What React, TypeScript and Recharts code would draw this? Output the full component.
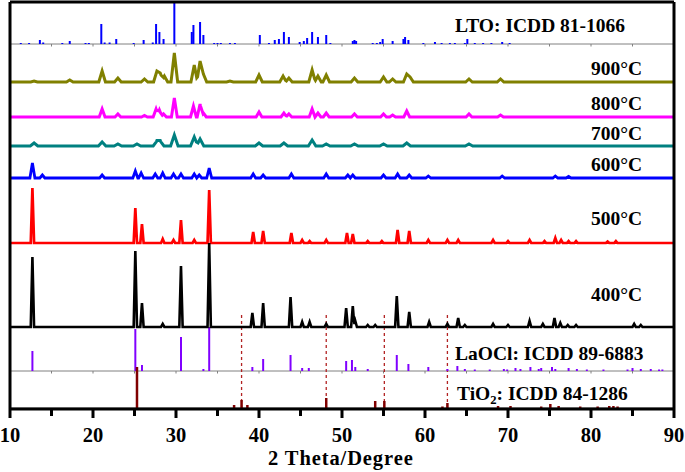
import React from "react";
import { ComposedChart, Line, XAxis, YAxis, ReferenceLine } from "recharts";

// ---------- data (2θ position, intensity in arbitrary units) ----------
const xTicks = [10, 15, 20, 25, 30, 35, 40, 45, 50, 55, 60, 65, 70, 75, 80, 85, 90];

const ltoSticks = [[11.3,1],[12.3,1],[13.6,4],[14.0,1.5],[16.3,1],[17.2,3],[19.1,1],[19.5,1],[21.0,20],[21.4,1.5],[22.0,1.5],[22.8,5],[24.9,1],[26.1,4],[27.2,1.5],[27.6,20],[28.0,12],[28.5,5],[29.8,41],[31.9,12],[32.1,19],[32.9,22],[33.3,9],[34.6,1],[35.0,1],[35.4,1],[36.5,1],[37.1,1],[40.1,9],[41.2,1],[41.9,4],[42.4,5],[43.0,12],[43.6,7],[44.9,2],[45.4,3],[45.8,6],[46.4,12],[47.1,7],[48.1,9],[48.6,1],[51.3,3],[51.5,4],[51.7,3],[53.7,1],[54.2,1],[54.6,2],[54.9,5],[56.1,3],[57.4,5],[57.6,7],[58.0,4],[59.8,1],[61.2,2],[62.0,1],[63.0,1],[63.6,1],[64.8,1],[65.1,5],[66.0,1],[67.0,1],[68.0,1],[69.3,2],[70.2,1]];

const peaks900 = [[12.9,1],[17.2,2],[21.1,11],[23.0,4],[26.2,3],[27.7,11],[28.1,9],[28.6,6],[29.8,29],[32.2,17],[32.9,21],[33.3,8],[36.5,1],[40.0,7],[42.9,6],[43.6,4],[46.4,12],[47.1,6],[48.1,7],[51.5,4],[55.0,5],[56.1,3],[57.8,8],[58.2,5],[65.3,3],[69.1,3]];
const peaks800 = [[21.1,8],[23.0,3],[26.2,1.5],[27.6,8],[28.0,7],[28.5,3],[29.8,19],[32.1,11],[32.9,13],[33.3,4],[40.0,5],[43.0,4],[43.6,3],[46.4,8],[47.1,4],[48.1,4],[51.5,3],[55.0,3],[56.1,2],[57.8,6],[65.3,3],[69.1,2]];
const peaks700 = [[12.9,3],[21.1,4],[23.0,2],[25.3,2],[27.7,5],[28.1,5],[29.8,11],[32.2,9],[32.9,7],[40.0,3],[43.0,3],[46.4,6],[48.1,2],[51.5,2],[55.0,2],[57.8,3],[65.3,2]];
const peaks600 = [[12.7,15],[13.9,3],[21.1,3],[25.1,7],[25.8,5],[27.5,4],[28.4,5],[29.7,4],[30.6,4],[32.2,4],[32.8,3],[34.0,10],[39.3,4],[40.5,3],[43.9,4],[48.1,4],[50.7,3],[51.3,3],[55.0,3],[56.7,4],[58.1,3],[60.4,2],[69.3,2],[75.7,2],[77.3,1.5]];
const peaks500 = [[12.7,55],[25.1,35],[25.9,19],[28.4,4],[29.7,3],[30.6,23],[32.2,3],[34.0,53],[39.3,11],[40.5,12],[43.9,10],[45.2,3],[46.1,2],[48.1,3],[50.6,10],[51.3,9],[53.1,2],[54.8,2],[56.7,13],[58.1,12],[60.4,3],[62.7,3],[64.0,3],[68.2,3],[70.0,2],[72.6,3],[74.4,2],[75.7,5],[76.4,3],[77.3,2],[78.2,2],[82.0,1.5],[83.0,2]];
const peaks400 = [[12.7,70],[25.1,76],[25.9,24],[28.4,3],[30.6,61],[34.0,84],[39.2,14],[40.5,24],[43.8,30],[45.2,5],[46.1,5],[48.1,3],[50.5,19],[51.3,21],[51.6,6],[53.1,2],[54.0,2],[56.6,31],[58.1,15],[60.5,5],[62.7,3],[64.0,9],[64.8,2],[68.2,3],[70.0,2],[72.6,6],[74.2,3],[75.6,9],[76.3,4],[77.2,2],[78.2,2],[85.2,3],[86.0,2]];

const laoclSticks = [[12.7,20],[25.1,42],[25.9,6],[30.6,34],[33.3,2],[34.0,44],[39.2,4],[40.5,12],[43.8,16],[45.2,3],[46.0,3],[50.5,10],[51.2,11],[51.6,4],[53.1,2],[56.6,16],[58.0,7],[60.4,4],[62.7,2],[63.9,5],[64.8,2],[66.0,1.5],[67.8,1.5],[69.5,2],[69.9,1.5],[70.9,3],[71.5,2],[72.7,4],[73.7,2],[74.0,3],[75.3,4],[75.7,2],[77.3,3],[78.3,2],[79.5,1.5],[81.5,1.5],[84.4,1.5],[85.0,3],[86.0,2],[87.2,2],[88.2,1.5],[88.6,1.5]];
const tio2Sticks = [[25.3,41],[37.0,3],[37.9,8],[38.6,3],[48.1,10],[54.0,7],[55.1,7],[62.1,1.5],[62.7,5],[68.8,2],[70.3,2],[74.0,1.5],[75.1,4],[76.1,2],[78.7,1.5],[80.8,1.5],[82.2,2],[82.7,2],[83.2,1.5]];
const tio2Marks = [37.9, 48.1, 55.1, 62.7];

// stacking offsets
const offsets = { tio2: 1, laocl: 38, t400: 82, t500: 166, t600: 231, t700: 263, t800: 292, t900: 327, lto: 365 };
const markTop = 96;

const sampleLabels = ["900°C", "800°C", "700°C", "600°C", "500°C", "400°C"];

// ---------- helpers ----------
function profile(peaks: number[][], base: number, w: number) {
  const xs = new Set<number>([10, 90]);
  peaks.forEach(([p]) => { xs.add(+(p - w).toFixed(3)); xs.add(p); xs.add(+(p + w).toFixed(3)); });
  const sorted = Array.from(xs).sort((a, b) => a - b);
  return sorted.map((x) => ({
    x,
    y: base + peaks.reduce((s, [p, h]) => s + Math.max(0, h * (1 - Math.abs(x - p) / w)), 0),
  }));
}

const FONT = '"Liberation Serif", "Times New Roman", serif';
const AX = { xAxisId: "b", yAxisId: "l" } as const;

const XTick = (props: any) => {
  const { x, y, payload } = props;
  const v = payload.value;
  const major = v % 10 === 0;
  return (
    <g>
      <line x1={x} x2={x} y1={y} y2={y + (major ? 9 : 7)} stroke="#000" strokeWidth={3} />
      {major && (
        <text x={x} y={y + 26} textAnchor="middle" dominantBaseline="central"
          style={{ fontFamily: FONT, fontWeight: 700, fontSize: 20.5 }} fill="#000">{v}</text>
      )}
    </g>
  );
};

const series = [
  { key: "900", data: profile(peaks900, offsets.t900, 0.4), color: "#808000", sw: 3 },
  { key: "800", data: profile(peaks800, offsets.t800, 0.35), color: "#FF00FF", sw: 3 },
  { key: "700", data: profile(peaks700, offsets.t700, 0.45), color: "#008080", sw: 3 },
  { key: "600", data: profile(peaks600, offsets.t600, 0.3), color: "#0000FF", sw: 2.8 },
  { key: "500", data: profile(peaks500, offsets.t500, 0.2), color: "#FF0000", sw: 2.7 },
  { key: "400", data: profile(peaks400, offsets.t400, 0.2), color: "#000000", sw: 2.6 },
];

const sticks = (arr: number[][], base: number, color: string, id: string, sw: number) =>
  arr.map(([p, h], i) => (
    <ReferenceLine key={id + i} {...AX} ifOverflow="visible"
      segment={[{ x: p, y: base }, { x: p, y: base + h }]} stroke={color} strokeWidth={sw} />
  ));

const dividerTicks = (base: number, id: string) =>
  xTicks.slice(1, -1).map((t, i) => (
    <ReferenceLine key={id + i} {...AX} ifOverflow="visible"
      segment={[{ x: t, y: base }, { x: t, y: base - 2.5 }]} stroke="#808080" strokeWidth={1} />
  ));

const labelStyle: React.CSSProperties = {
  position: "absolute", fontFamily: FONT, fontWeight: 700, fontSize: 19.5, lineHeight: "19.5px",
  whiteSpace: "nowrap", color: "#000",
};

export default function App() {
  const sampleY = [68.5, 103.5, 133.5, 165, 218.5, 295];
  return (
    <div style={{ position: "absolute", left: 0, top: 0, width: 685, height: 472, background: "#fff" }}>
      <ComposedChart width={685} height={472} margin={{ top: 1, right: 10, bottom: 62, left: 9 }}>
        <XAxis xAxisId="b" dataKey="x" type="number" domain={[10, 90]} ticks={xTicks} allowDataOverflow
          height={1} tickSize={0} tickMargin={0} tickLine={false} interval={0}
          axisLine={{ stroke: "#000", strokeWidth: 3 }} tick={<XTick />} />
        <XAxis xAxisId="t" orientation="top" type="number" domain={[10, 90]} height={1}
          tick={false} tickLine={false} axisLine={{ stroke: "#000", strokeWidth: 3 }} />
        <YAxis yAxisId="l" type="number" domain={[0, 407]} width={1} tick={false} tickLine={false}
          axisLine={{ stroke: "#000", strokeWidth: 3 }} allowDataOverflow />
        <YAxis yAxisId="r" orientation="right" type="number" domain={[0, 407]} width={1} tick={false}
          tickLine={false} axisLine={{ stroke: "#000", strokeWidth: 3 }} />

        <ReferenceLine {...AX} y={offsets.lto} stroke="#808080" strokeWidth={1} />
        <ReferenceLine {...AX} y={offsets.laocl} stroke="#808080" strokeWidth={1} />
        <ReferenceLine {...AX} y={offsets.tio2} stroke="#808080" strokeWidth={1} />
        {dividerTicks(offsets.lto, "dl")}
        {dividerTicks(offsets.laocl, "dc")}

        {tio2Marks.map((m, i) => (
          <ReferenceLine key={"m" + i} {...AX} ifOverflow="visible"
            segment={[{ x: m, y: offsets.tio2 }, { x: m, y: markTop }]}
            stroke="#B22222" strokeWidth={1.3} strokeDasharray="3 3" />
        ))}

        {sticks(ltoSticks, offsets.lto, "#0000FF", "lto", 2)}
        {sticks(laoclSticks, offsets.laocl, "#8000FF", "lao", 2)}
        {sticks(tio2Sticks, offsets.tio2, "#800000", "tio", 2.5)}

        {series.map((s) => (
          <Line key={s.key} {...AX} data={s.data} dataKey="y" type="linear" dot={false}
            stroke={s.color} strokeWidth={s.sw} isAnimationActive={false} />
        ))}
      </ComposedChart>

      <div style={{ ...labelStyle, left: 455, top: 25.8 - 9.75 }}>LTO: ICDD 81-1066</div>
      {sampleLabels.map((t, i) => (
        <div key={t} style={{ ...labelStyle, left: 591, top: sampleY[i] - 9.75 }}>{t}</div>
      ))}
      <div style={{ ...labelStyle, left: 455, top: 353.5 - 9.75 }}>LaOCl: ICDD 89-6883</div>
      <div style={{ ...labelStyle, left: 457, top: 394 - 9.75 }}>
        TiO<sub style={{ fontSize: "0.65em", verticalAlign: "-0.3em", lineHeight: 0 }}>2</sub>: ICDD 84-1286
      </div>
      <div style={{ ...labelStyle, fontSize: 20.5, lineHeight: "20.5px", letterSpacing: "0.9px", left: 268, top: 458 - 10.25 }}>
        2 Theta/Degree
      </div>
    </div>
  );
}
